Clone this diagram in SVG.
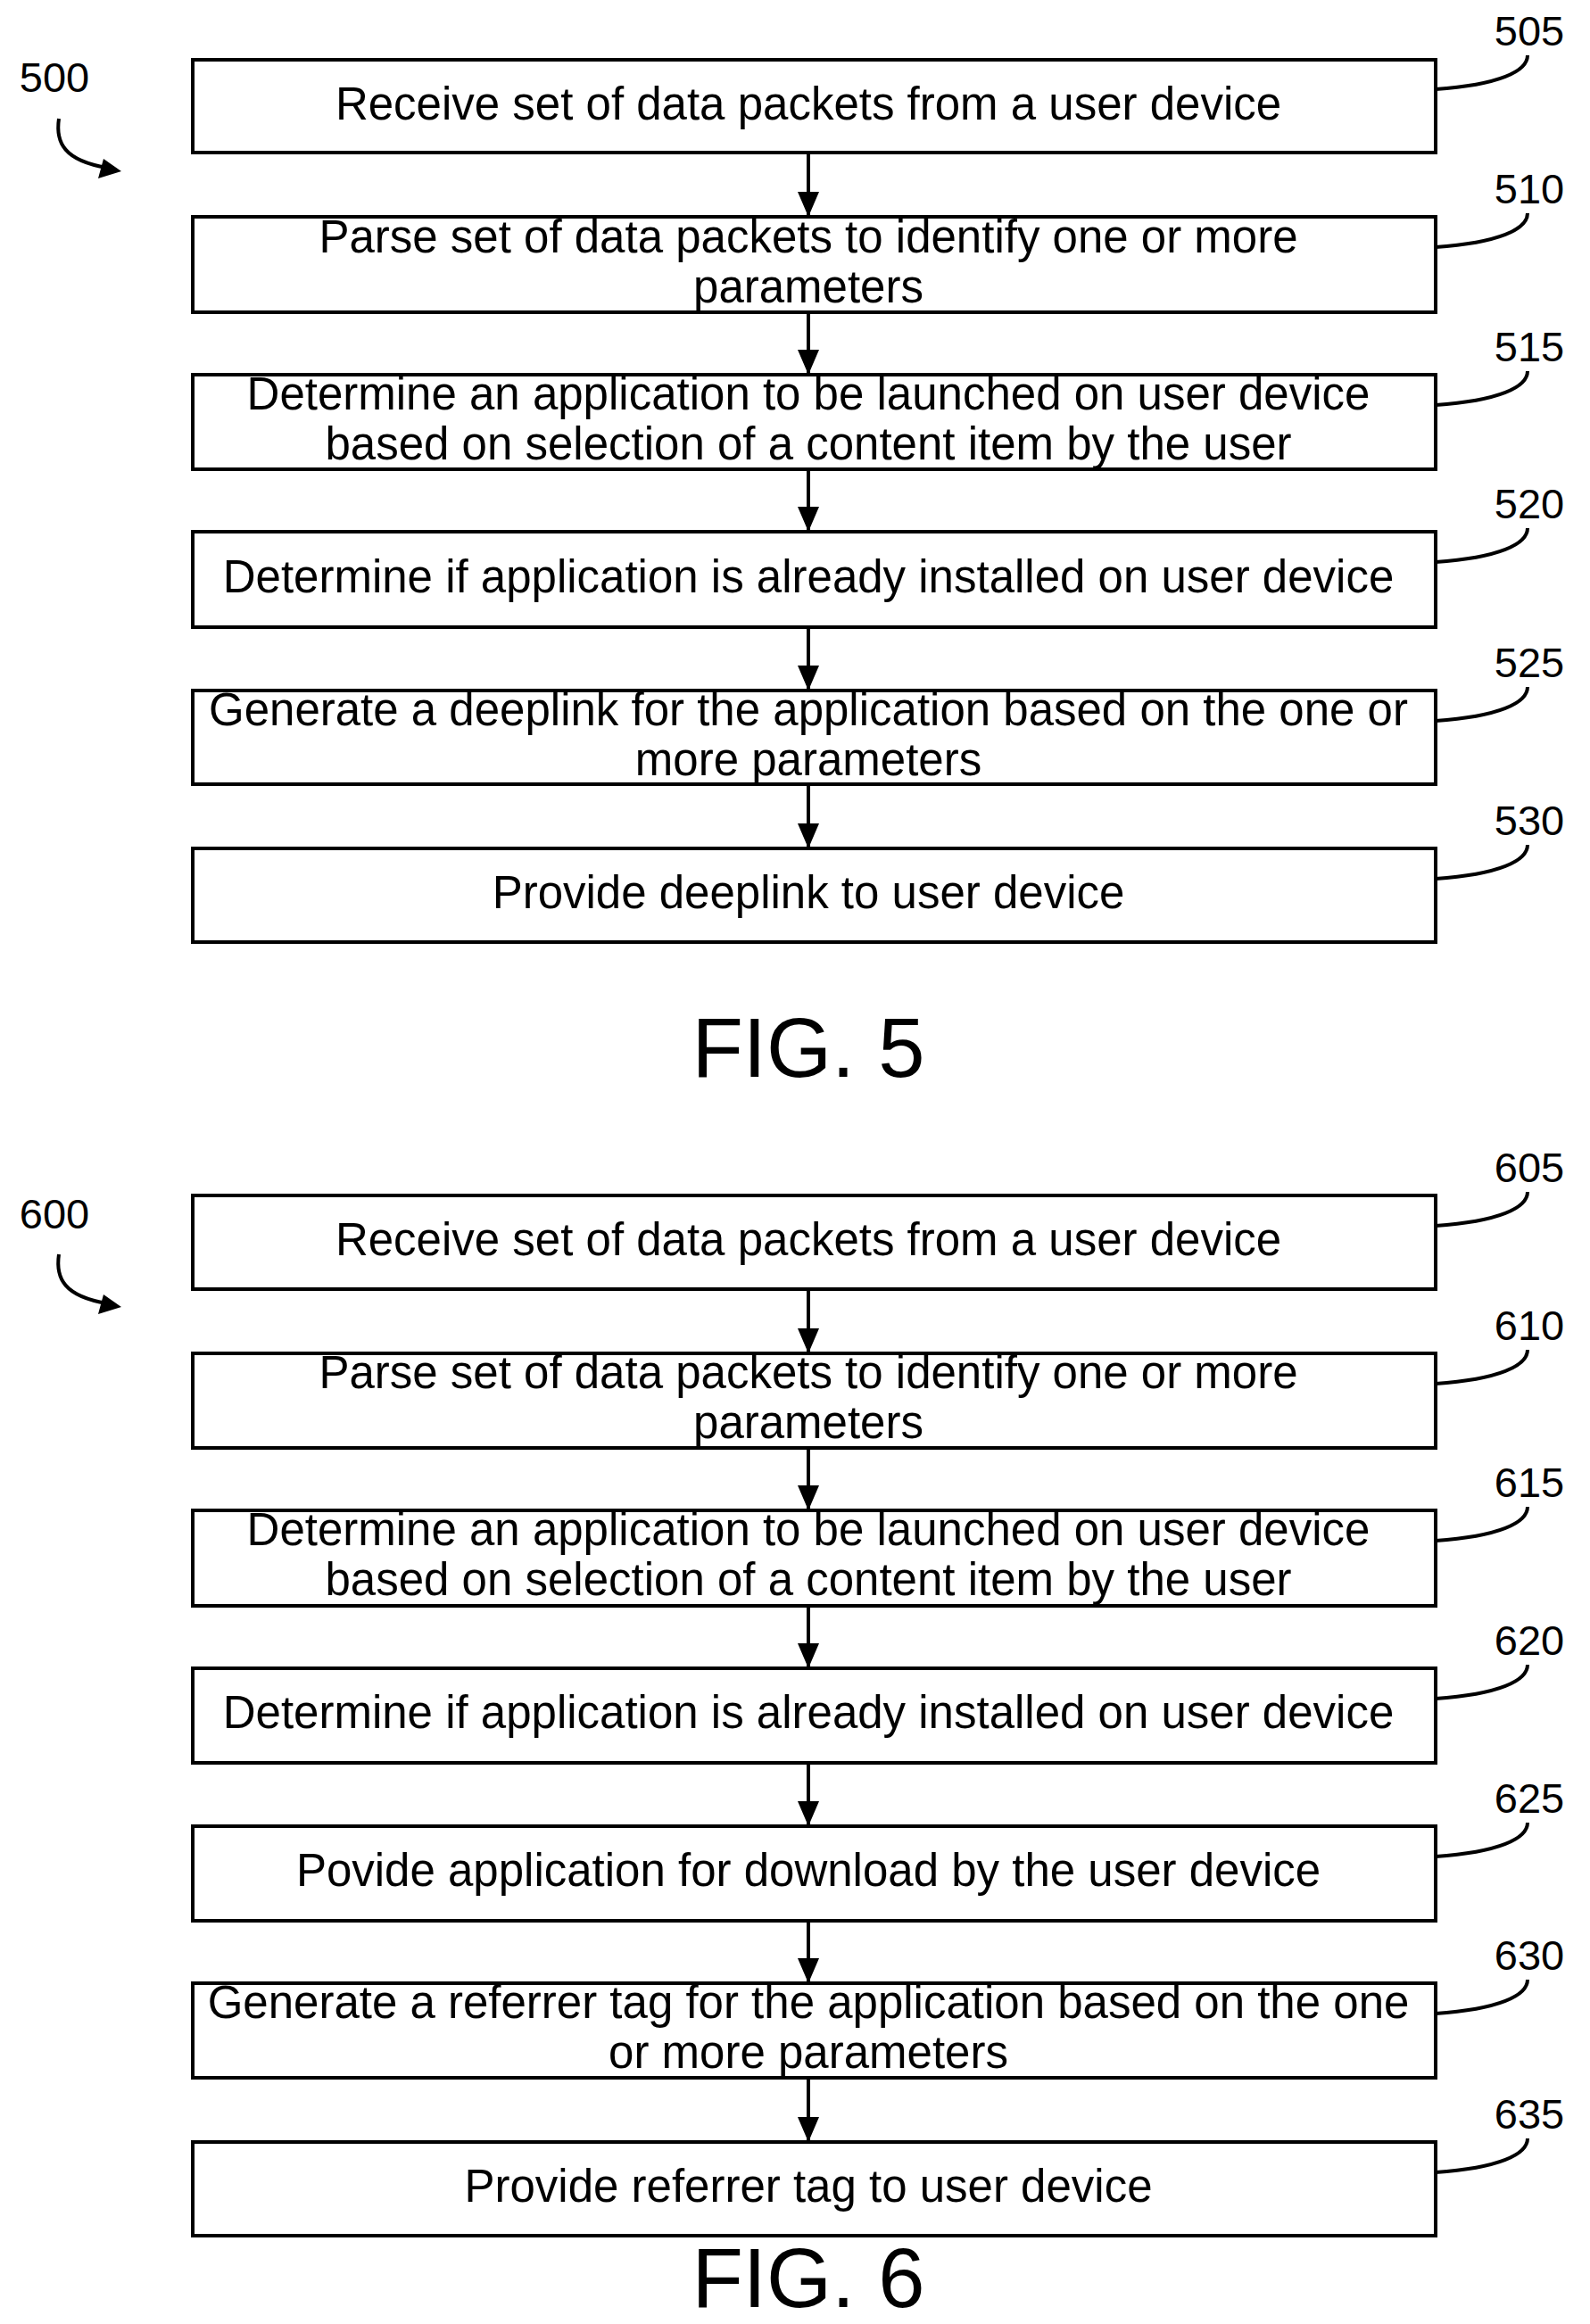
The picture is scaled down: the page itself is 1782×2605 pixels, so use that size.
<svg xmlns="http://www.w3.org/2000/svg" width="1782" height="2605" viewBox="0 0 1782 2605">
<style>
.b{fill:#fff;stroke:#000;stroke-width:4}
.t{font-family:"Liberation Sans",Arial,sans-serif;font-size:51px;text-anchor:middle;fill:#000}
.l{font-family:"Liberation Sans",Arial,sans-serif;font-size:47px;text-anchor:middle;fill:#000}
.f{font-family:"Liberation Sans",Arial,sans-serif;font-size:94px;text-anchor:middle;fill:#000}
.c{fill:none;stroke:#000;stroke-width:4}
</style>
<rect width="1782" height="2605" fill="#fff"/>
<g id="connectors">
<path class="c" d="M906,171V243 M906,350V420 M906,526V596 M906,703V774 M906,879V951" stroke-width="3"/>
<path class="c" d="M906,1445V1517 M906,1623V1693 M906,1800V1870 M906,1976V2047 M906,2153V2223 M906,2329V2401" stroke-width="3"/>
<g fill="#000">
<path d="M894,215L918,215L906,243z M894,392L918,392L906,420z M894,568L918,568L906,596z M894,746L918,746L906,774z M894,923L918,923L906,951z"/>
<path d="M894,1489L918,1489L906,1517z M894,1665L918,1665L906,1693z M894,1842L918,1842L906,1870z M894,2019L918,2019L906,2047z M894,2195L918,2195L906,2223z M894,2373L918,2373L906,2401z"/>
</g>
<path class="c" d="M66,133C62,160 72,180 120,188" stroke-width="3"/>
<path d="M136,192L110,200L116,178z" fill="#000"/>
<path class="c" d="M66,1406C62,1433 72,1453 120,1461" stroke-width="3"/>
<path d="M136,1465L110,1473L116,1451z" fill="#000"/>
</g>
<g id="ref500"><text class="l" x="61" y="103">500</text></g>
<g id="ref600"><text class="l" x="61" y="1377">600</text></g>
<g id="n505"><rect class="b" x="216" y="67" width="1393" height="104"/><text class="t" x="906" y="134">Receive set of data packets from a user device</text><text class="l" x="1714" y="51">505</text><path class="c" d="M1609,100C1680,95 1712,80 1712,62"/></g>
<g id="n510"><rect class="b" x="216" y="243" width="1393" height="107"/><text class="t" x="906" y="283">Parse set of data packets to identify one or more</text><text class="t" x="906" y="339">parameters</text><text class="l" x="1714" y="228">510</text><path class="c" d="M1609,277C1680,272 1712,257 1712,239"/></g>
<g id="n515"><rect class="b" x="216" y="420" width="1393" height="106"/><text class="t" x="906" y="459">Determine an application to be launched on user device</text><text class="t" x="906" y="515">based on selection of a content item by the user</text><text class="l" x="1714" y="405">515</text><path class="c" d="M1609,454C1680,449 1712,434 1712,416"/></g>
<g id="n520"><rect class="b" x="216" y="596" width="1393" height="107"/><text class="t" x="906" y="664">Determine if application is already installed on user device</text><text class="l" x="1714" y="581">520</text><path class="c" d="M1609,630C1680,625 1712,610 1712,592"/></g>
<g id="n525"><rect class="b" x="216" y="774" width="1393" height="105"/><text class="t" x="906" y="813">Generate a deeplink for the application based on the one or</text><text class="t" x="906" y="869">more parameters</text><text class="l" x="1714" y="759">525</text><path class="c" d="M1609,808C1680,803 1712,788 1712,770"/></g>
<g id="n530"><rect class="b" x="216" y="951" width="1393" height="105"/><text class="t" x="906" y="1018">Provide deeplink to user device</text><text class="l" x="1714" y="936">530</text><path class="c" d="M1609,985C1680,980 1712,965 1712,947"/></g>
<g id="fig5"><text class="f" x="906" y="1207">FIG. 5</text></g>
<g id="n605"><rect class="b" x="216" y="1340" width="1393" height="105"/><text class="t" x="906" y="1407">Receive set of data packets from a user device</text><text class="l" x="1714" y="1325">605</text><path class="c" d="M1609,1374C1680,1369 1712,1354 1712,1336"/></g>
<g id="n610"><rect class="b" x="216" y="1517" width="1393" height="106"/><text class="t" x="906" y="1556">Parse set of data packets to identify one or more</text><text class="t" x="906" y="1612">parameters</text><text class="l" x="1714" y="1502">610</text><path class="c" d="M1609,1551C1680,1546 1712,1531 1712,1513"/></g>
<g id="n615"><rect class="b" x="216" y="1693" width="1393" height="107"/><text class="t" x="906" y="1732">Determine an application to be launched on user device</text><text class="t" x="906" y="1788">based on selection of a content item by the user</text><text class="l" x="1714" y="1678">615</text><path class="c" d="M1609,1727C1680,1722 1712,1707 1712,1689"/></g>
<g id="n620"><rect class="b" x="216" y="1870" width="1393" height="106"/><text class="t" x="906" y="1937">Determine if application is already installed on user device</text><text class="l" x="1714" y="1855">620</text><path class="c" d="M1609,1904C1680,1899 1712,1884 1712,1866"/></g>
<g id="n625"><rect class="b" x="216" y="2047" width="1393" height="106"/><text class="t" x="906" y="2114">Povide application for download by the user device</text><text class="l" x="1714" y="2032">625</text><path class="c" d="M1609,2081C1680,2076 1712,2061 1712,2043"/></g>
<g id="n630"><rect class="b" x="216" y="2223" width="1393" height="106"/><text class="t" x="906" y="2262">Generate a referrer tag for the application based on the one</text><text class="t" x="906" y="2318">or more parameters</text><text class="l" x="1714" y="2208">630</text><path class="c" d="M1609,2257C1680,2252 1712,2237 1712,2219"/></g>
<g id="n635"><rect class="b" x="216" y="2401" width="1393" height="105"/><text class="t" x="906" y="2468">Provide referrer tag to user device</text><text class="l" x="1714" y="2386">635</text><path class="c" d="M1609,2435C1680,2430 1712,2415 1712,2397"/></g>
<g id="fig6"><text class="f" x="906" y="2586">FIG. 6</text></g>
</svg>
